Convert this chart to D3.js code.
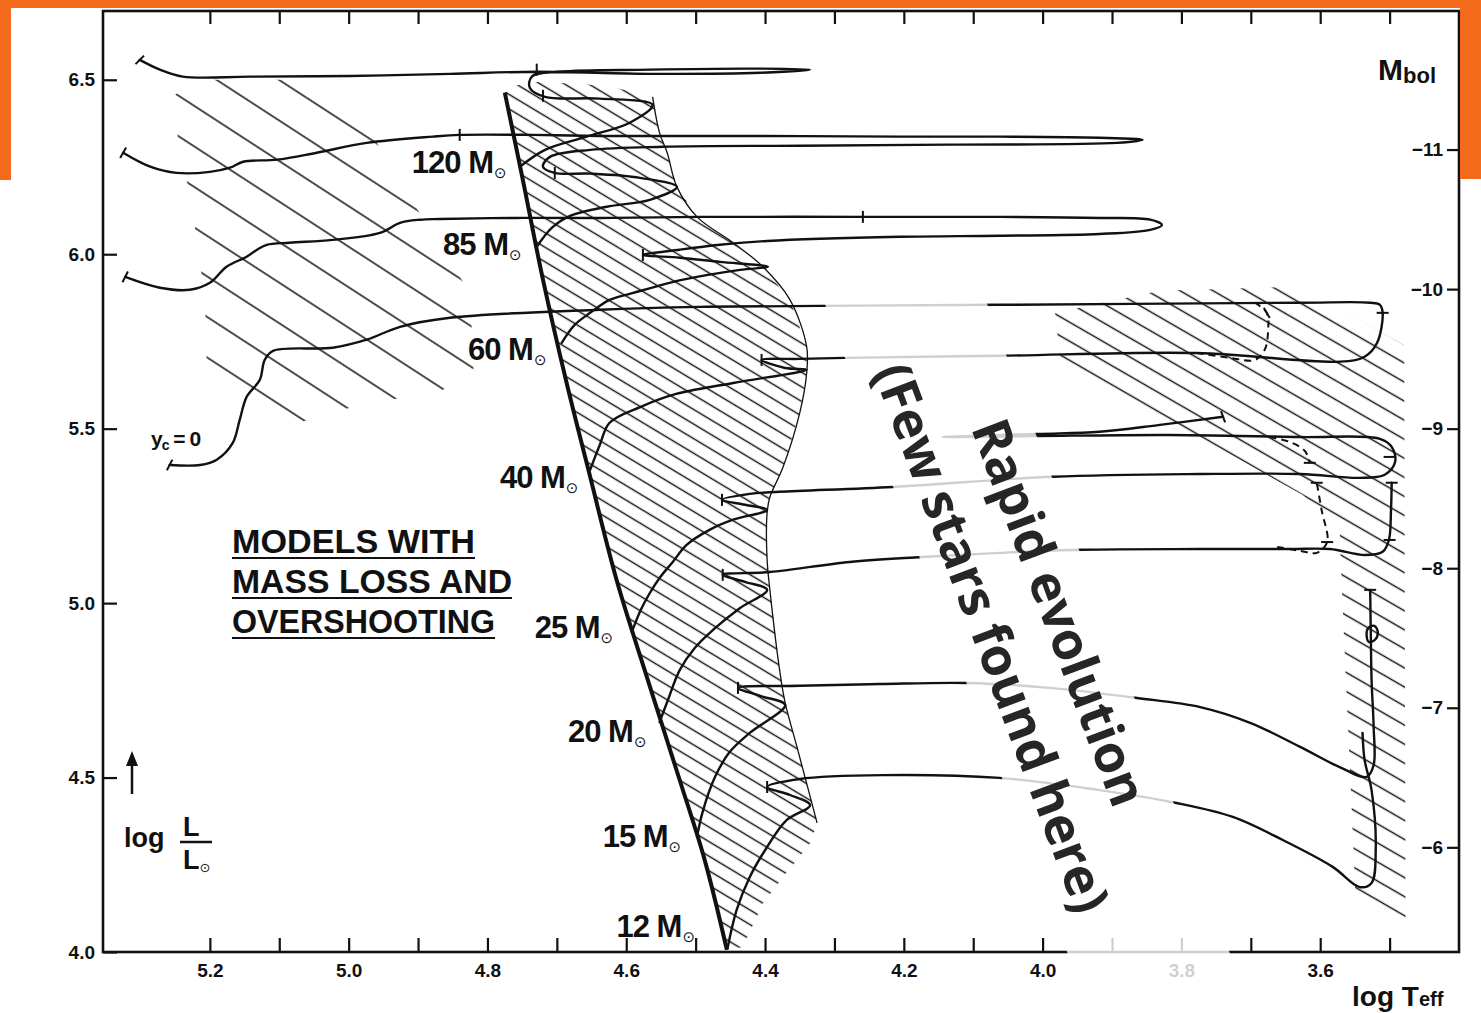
<!DOCTYPE html>
<html>
<head>
<meta charset="utf-8">
<style>
body { margin: 0; background: #fff; }
svg text { font-family: "Liberation Sans", Arial, sans-serif; font-weight: bold; fill: #111; }
.track { fill: none; stroke: #111; stroke-width: 2.4; stroke-linejoin: round; stroke-linecap: round; }
.dashed { fill: none; stroke: #111; stroke-width: 2; stroke-dasharray: 7 5; }
.axis path { display: none; }
.axis line { stroke: #111; stroke-width: 2.2; }
.axis text { font-size: 19px; }
</style>
</head>
<body>
<svg width="1481" height="1013"></svg>
<script src="https://d3js.org/d3.v7.min.js"></script>
<script>
// evolutionary tracks, [log Teff, log L/Lsun]
var masses = ["120", "85", "60", "40", "25", "20", "15", "12"];

var track120 = [[4.753,6.251],[4.717,6.299],[4.657,6.337],[4.595,6.377],[4.562,6.428],[4.638,6.446],[4.717,6.451],[4.739,6.477],[4.736,6.509],[4.696,6.523],[4.566,6.529],[4.422,6.532],[4.335,6.529],[4.407,6.520],[4.566,6.517],[4.729,6.523],[4.854,6.517],[4.998,6.511],[5.142,6.509],[5.239,6.509],[5.272,6.529],[5.301,6.557]];
var track85 = [[4.729,6.021],[4.707,6.076],[4.681,6.110],[4.628,6.136],[4.566,6.156],[4.527,6.193],[4.580,6.219],[4.652,6.231],[4.703,6.233],[4.720,6.251],[4.710,6.279],[4.652,6.299],[4.547,6.308],[4.350,6.311],[4.134,6.314],[3.893,6.319],[3.856,6.328],[3.918,6.334],[4.062,6.337],[4.206,6.337],[4.422,6.339],[4.638,6.339],[4.735,6.342],[4.840,6.342],[4.879,6.337],[4.974,6.319],[5.046,6.291],[5.103,6.271],[5.152,6.265],[5.171,6.248],[5.200,6.236],[5.248,6.233],[5.286,6.251],[5.325,6.291]];
var track60 = [[4.693,5.746],[4.674,5.798],[4.652,5.832],[4.624,5.869],[4.590,5.889],[4.518,5.927],[4.436,5.955],[4.396,5.964],[4.465,5.978],[4.523,5.990],[4.576,5.998],[4.523,6.013],[4.465,6.027],[4.397,6.038],[4.206,6.050],[4.062,6.053],[3.918,6.058],[3.845,6.070],[3.828,6.084],[3.845,6.099],[3.918,6.104],[4.062,6.107],[4.259,6.107],[4.494,6.107],[4.638,6.104],[4.758,6.104],[4.869,6.101],[4.897,6.099],[4.926,6.090],[4.955,6.061],[5.023,6.041],[5.085,6.033],[5.118,6.027],[5.132,6.013],[5.147,5.993],[5.176,5.964],[5.200,5.918],[5.229,5.898],[5.272,5.904],[5.322,5.935]];
var track40 = [[4.652,5.382],[4.638,5.454],[4.624,5.517],[4.580,5.562],[4.533,5.597],[4.446,5.631],[4.340,5.669],[4.371,5.674],[4.405,5.697],[4.350,5.700],[4.285,5.703],[4.062,5.709],[3.778,5.717],[3.572,5.692],[3.536,5.706],[3.518,5.746],[3.510,5.832],[3.514,5.855],[3.528,5.861],[3.629,5.861],[4.062,5.855],[4.321,5.852],[4.494,5.849],[4.638,5.841],[4.854,5.818],[4.926,5.792],[4.974,5.755],[5.023,5.732],[5.109,5.723],[5.121,5.697],[5.128,5.640],[5.147,5.591],[5.157,5.525],[5.167,5.459],[5.190,5.411],[5.214,5.396],[5.258,5.396]];
var track25 = [[4.592,4.917],[4.579,4.981],[4.566,5.029],[4.552,5.072],[4.533,5.118],[4.513,5.167],[4.480,5.210],[4.446,5.239],[4.397,5.267],[4.429,5.282],[4.462,5.296],[4.422,5.313],[4.379,5.319],[4.216,5.333],[3.985,5.362],[3.773,5.370],[3.629,5.370],[3.543,5.359],[3.507,5.368],[3.492,5.405],[3.497,5.448],[3.514,5.471],[3.629,5.476],[3.817,5.482],[4.008,5.479],[4.144,5.476],[4.008,5.485],[3.918,5.491],[3.831,5.511],[3.740,5.534]];
var track20 = [[4.552,4.659],[4.540,4.722],[4.523,4.808],[4.501,4.872],[4.475,4.923],[4.436,4.986],[4.397,5.038],[4.429,5.061],[4.461,5.081],[4.393,5.089],[4.278,5.118],[4.174,5.132],[4.062,5.144],[3.943,5.153],[3.773,5.155],[3.644,5.155],[3.586,5.155],[3.536,5.138],[3.510,5.147],[3.501,5.181],[3.498,5.267],[3.497,5.345]];
var track15 = [[4.498,4.330],[4.490,4.401],[4.472,4.502],[4.451,4.573],[4.422,4.628],[4.371,4.708],[4.407,4.734],[4.439,4.757],[4.350,4.763],[4.235,4.768],[4.108,4.771],[3.990,4.757],[3.864,4.728],[3.773,4.702],[3.701,4.657],[3.629,4.588],[3.572,4.530],[3.533,4.502],[3.523,4.536],[3.523,4.645],[3.526,4.780],[3.527,4.900],[3.528,5.038]];
var loop15 = [[3.530,4.889],[3.521,4.895],[3.517,4.917],[3.522,4.935],[3.531,4.928],[3.533,4.905]];
var track12 = [[4.454,4.011],[4.441,4.120],[4.422,4.215],[4.397,4.301],[4.369,4.378],[4.335,4.421],[4.364,4.450],[4.397,4.473],[4.350,4.496],[4.230,4.507],[4.062,4.499],[3.918,4.464],[3.807,4.427],[3.726,4.387],[3.654,4.321],[3.582,4.244],[3.543,4.186],[3.526,4.198],[3.520,4.292],[3.526,4.464],[3.536,4.550],[3.539,4.628]];

// alternative (dashed) red-supergiant branches
var dashed40 = [[3.778,5.717],[3.730,5.703],[3.694,5.697],[3.680,5.726],[3.675,5.783],[3.677,5.832],[3.694,5.861]];
var dashed25 = [[3.673,5.476],[3.644,5.462],[3.622,5.436],[3.615,5.402]];
var dashed20 = [[3.662,5.161],[3.629,5.150],[3.605,5.144],[3.590,5.175],[3.598,5.267],[3.605,5.345]];

// small model marks on the tracks: log Teff, log L, orientation (deg)
var trackTicks = [[4.720,6.454,90],[4.729,6.529,90],[5.301,6.557,-45],[5.325,6.291,-60],[5.322,5.935,-63],[5.258,5.396,-63],
  [4.703,6.233,90],[4.840,6.342,90],[4.576,5.998,90],[4.259,6.107,90],[4.405,5.697,90],[3.510,5.832,0],[3.677,5.832,60],
  [4.462,5.296,90],[3.615,5.402,0],[3.740,5.534,70],[3.500,5.419,0],[4.461,5.081,90],[3.497,5.345,0],[3.500,5.181,0],
  [3.605,5.345,0],[3.590,5.175,0],[4.439,4.757,90],[3.528,5.038,0],[4.397,4.473,90]];

// zero-age and terminal-age main sequence
var zams = [[4.775,6.463],[4.749,6.213],[4.720,5.927],[4.687,5.640],[4.652,5.362],[4.614,5.067],[4.569,4.780],[4.523,4.493],[4.487,4.264],[4.455,4.006]];
var tams = [[4.562,6.451],[4.552,6.348],[4.541,6.291],[4.527,6.193],[4.498,6.107],[4.446,6.033],[4.403,5.964],[4.364,5.869],[4.340,5.735],[4.340,5.660],[4.350,5.545],[4.374,5.390],[4.393,5.304],[4.397,5.259],[4.397,5.124],[4.393,5.038],[4.379,4.808],[4.371,4.714],[4.354,4.588],[4.325,4.370]];

// hatched zones
var msLower = [[4.335,4.312],[4.354,4.264],[4.374,4.215],[4.403,4.140],[4.432,4.014]];
var msTop = [[4.761,6.483],[4.725,6.494],[4.628,6.483]];
var hatchWR = [[5.255,6.451],[5.214,6.500],[5.013,6.500],[4.945,6.271],[4.883,6.070],[4.825,5.889],[4.820,5.663],[4.869,5.606],[4.926,5.588],[4.988,5.565],[5.042,5.537],[5.092,5.502],[5.204,5.646],[5.207,5.869],[5.222,6.084],[5.233,6.208],[5.246,6.334]];
var hatchRSG = [[3.982,5.832],[3.831,5.895],[3.629,5.907],[3.479,5.740],[3.477,4.077],[3.549,4.155],[3.569,5.052],[3.572,5.210],[3.625,5.310],[3.975,5.697]];

// label anchors (log Teff, log L)
var labelT = [4.909, 4.864, 4.828, 4.782, 4.732, 4.684, 4.634, 4.614];
var labelL = [6.233, 5.998, 5.697, 5.330, 4.900, 4.602, 4.301, 4.043];

var xTicks = [5.2, 5.1, 5.0, 4.9, 4.8, 4.7, 4.6, 4.5, 4.4, 4.3, 4.2, 4.1, 4.0, 3.9, 3.8, 3.7, 3.6, 3.5];
var yTicks = [4.0, 4.5, 5.0, 5.5, 6.0, 6.5];
var mbolTicks = [-11, -10, -9, -8, -7, -6];
var titleLines = ["MODELS WITH", "MASS LOSS AND", "OVERSHOOTING"];

var svg = d3.select("svg");
var x = d3.scaleLinear().domain([5.354, 3.4]).range([103, 1459]);
var y = d3.scaleLinear().domain([4, 6.7]).range([952, 10]);
var mbol = d3.scaleLinear().domain([-5.25, -12]).range([952, 10]);

var line = d3.line()
  .x(function(d) { return x(d[0]); })
  .y(function(d) { return y(d[1]); })
  .curve(d3.curveCatmullRom.alpha(0.5));
var poly = d3.line()
  .x(function(d) { return x(d[0]); })
  .y(function(d) { return y(d[1]); })
  .curve(d3.curveLinearClosed);

// hatch patterns
var defs = svg.append("defs");
function hatch(id, gap, angle) {
  var p = defs.append("pattern").attr("id", id)
    .attr("patternUnits", "userSpaceOnUse")
    .attr("width", 60).attr("height", gap)
    .attr("patternTransform", "rotate(" + angle + ")");
  p.append("line").attr("x1", 0).attr("x2", 60)
    .attr("y1", gap / 2).attr("y2", gap / 2)
    .attr("stroke", "#111").attr("stroke-width", 1.3);
}
hatch("hWR", 34, 33);
hatch("hMS", 12.5, 31);
hatch("hRSG", 16.5, 30);

var msPoly = tams.concat(msLower, zams.slice().reverse(), msTop);
svg.append("path").attr("d", poly(hatchWR)).attr("fill", "url(#hWR)");
svg.append("path").attr("d", poly(msPoly)).attr("fill", "url(#hMS)");
svg.append("path").attr("d", poly(hatchRSG)).attr("fill", "url(#hRSG)");

svg.append("path").attr("d", line(tams)).attr("fill", "none").attr("stroke", "#111").attr("stroke-width", 1.3);

// tracks
var tracks = [track120, track85, track60, track40, track25, track20, track15, track12];
svg.append("g").selectAll("path").data(tracks).enter().append("path")
  .attr("class", "track").attr("d", line);
svg.append("path").attr("class", "track").attr("stroke-width", 1.8)
  .attr("d", line.curve(d3.curveCatmullRomClosed.alpha(0.5))(loop15));
line.curve(d3.curveCatmullRom.alpha(0.5));
svg.append("g").selectAll("path").data([dashed40, dashed25, dashed20]).enter().append("path")
  .attr("class", "dashed").attr("d", line);

svg.append("g").selectAll("line").data(trackTicks).enter().append("line")
  .attr("x1", function(d) { return x(d[0]) - 6 * Math.cos(d[2] * Math.PI / 180); })
  .attr("x2", function(d) { return x(d[0]) + 6 * Math.cos(d[2] * Math.PI / 180); })
  .attr("y1", function(d) { return y(d[1]) - 6 * Math.sin(d[2] * Math.PI / 180); })
  .attr("y2", function(d) { return y(d[1]) + 6 * Math.sin(d[2] * Math.PI / 180); })
  .attr("stroke", "#111").attr("stroke-width", 2);

svg.append("path").attr("d", line(zams)).attr("fill", "none").attr("stroke", "#111").attr("stroke-width", 4);

// mass labels
var lab = svg.append("g").selectAll("text").data(masses).enter().append("text")
  .attr("x", function(d, i) { return x(labelT[i]); })
  .attr("y", function(d, i) { return y(labelL[i]); })
  .attr("font-size", 31).attr("letter-spacing", -1)
  .text(function(d) { return d + " M"; });
lab.append("tspan").attr("dy", 5).attr("dx", 1).attr("font-size", 15)
  .style("font-family", "DejaVu Sans").style("font-weight", "normal").text("\u2299");

// axes
svg.append("g").attr("class", "axis").attr("transform", "translate(0,952)")
  .call(d3.axisBottom(x).tickValues(xTicks).tickSize(-14).tickSizeOuter(0).tickPadding(12)
    .tickFormat(function(d) { return Math.round(d * 10) % 2 === 0 ? d.toFixed(1) : ""; }));
svg.append("g").attr("class", "axis").attr("transform", "translate(0,11)")
  .call(d3.axisTop(x).tickValues(xTicks).tickSize(-13).tickSizeOuter(0).tickFormat(""));
svg.append("g").attr("class", "axis").attr("transform", "translate(103,0)")
  .call(d3.axisLeft(y).tickValues(yTicks).tickSize(-14).tickSizeOuter(0).tickPadding(8).tickFormat(d3.format(".1f")));
svg.append("g").attr("class", "axis").attr("transform", "translate(1459,0)")
  .call(d3.axisLeft(mbol).tickValues(mbolTicks).tickSize(12).tickSizeOuter(0).tickPadding(4)
    .tickFormat(function(d) { return "\u2212" + Math.abs(d); }));

svg.append("rect").attr("x", 103).attr("y", 11).attr("width", 1356).attr("height", 941)
  .attr("fill", "none").attr("stroke", "#111").attr("stroke-width", 2.6);

// axis titles
var mb = svg.append("text").attr("x", 1378).attr("y", 80).attr("font-size", 30).text("M");
mb.append("tspan").attr("font-size", 22).attr("dy", 3).text("bol");
var lt = svg.append("text").attr("x", 1352).attr("y", 1006).attr("font-size", 28).text("log T");
lt.append("tspan").attr("font-size", 20).text("eff");

svg.append("text").attr("x", 124).attr("y", 847).attr("font-size", 27).text("log");
svg.append("text").attr("x", 183).attr("y", 836).attr("font-size", 27).text("L");
svg.append("line").attr("x1", 180).attr("x2", 212).attr("y1", 842).attr("y2", 842).attr("stroke", "#111").attr("stroke-width", 2.5);
var den = svg.append("text").attr("x", 183).attr("y", 869).attr("font-size", 27).text("L");
den.append("tspan").attr("font-size", 13).attr("dy", 3).style("font-family", "DejaVu Sans").style("font-weight", "normal").text("\u2299");
svg.append("line").attr("x1", 132).attr("x2", 132).attr("y1", 794).attr("y2", 762).attr("stroke", "#111").attr("stroke-width", 2.5);
svg.append("path").attr("d", "M126,766 L132,751 L138,766 Z").attr("fill", "#111");

var yc = svg.append("text").attr("x", 151).attr("y", 446).attr("font-size", 21).attr("letter-spacing", -1).text("y");
yc.append("tspan").attr("font-size", 14).attr("dy", 4).text("c");
yc.append("tspan").attr("dy", -4).text(" = 0");

// title block
var tg = svg.append("g");
var tw = [243, 280, 263];
titleLines.forEach(function(t, i) {
  tg.append("text").attr("x", 232).attr("y", 553 + i * 40).attr("font-size", 33)
    .attr("textLength", tw[i]).attr("lengthAdjust", "spacingAndGlyphs").text(t);
  tg.append("line").attr("x1", 232).attr("x2", 232 + tw[i])
    .attr("y1", 558 + i * 40).attr("y2", 558 + i * 40).attr("stroke", "#111").attr("stroke-width", 2.2);
});

// rapid evolution annotation with a translucent backing band
var ann = svg.append("g").attr("transform", "translate(1026,625) rotate(69.5)");
ann.append("rect").attr("x", -382).attr("y", -76).attr("width", 815).attr("height", 152)
  .attr("fill", "#fff").attr("opacity", 0.8);
ann.selectAll("text").data(["Rapid evolution", "(Few stars found here)"]).enter().append("text")
  .attr("x", 0).attr("y", function(d, i) { return i === 0 ? -36 : 36; })
  .attr("dy", "0.36em").attr("text-anchor", "middle")
  .style("font-family", "'Open Sans', sans-serif").style("font-weight", 700)
  .style("font-size", "52px").style("fill", "#262626")
  .text(function(d) { return d; });

// orange frame of the slide
svg.append("rect").attr("x", 0).attr("y", 0).attr("width", 1481).attr("height", 8).attr("fill", "#f26a1a");
svg.append("rect").attr("x", 0).attr("y", 0).attr("width", 11).attr("height", 180).attr("fill", "#f26a1a");
svg.append("rect").attr("x", 1460).attr("y", 0).attr("width", 21).attr("height", 179).attr("fill", "#f26a1a");
</script>
</body>
</html>
